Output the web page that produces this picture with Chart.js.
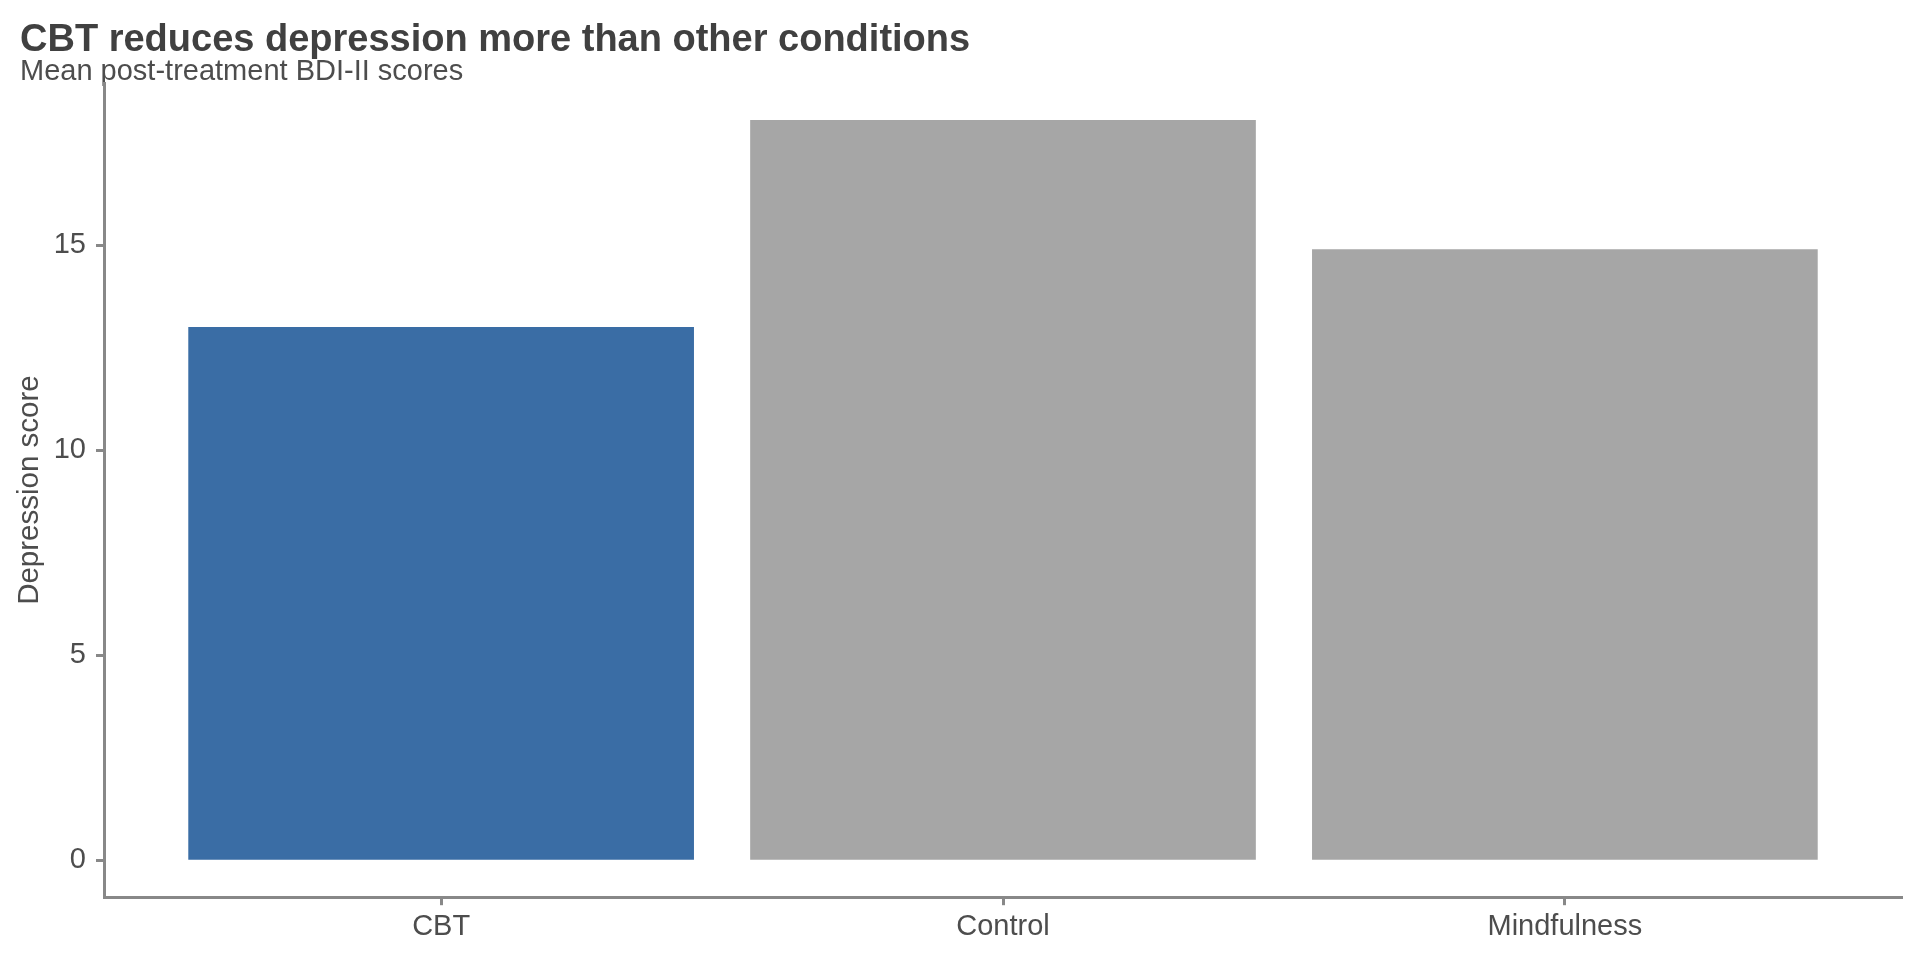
<!DOCTYPE html>
<html>
<head>
<meta charset="utf-8">
<script src="https://cdn.jsdelivr.net/npm/chart.js@4.4.1/dist/chart.umd.min.js"></script>
<style>
  html, body { margin: 0; padding: 0; background: #ffffff; }
  #wrap { width: 1920px; height: 960px; position: relative; }
</style>
</head>
<body>
<div id="wrap"><canvas id="c" width="1920" height="960"></canvas></div>
<script>
// ---- data ----
const categories = ['CBT', 'Control', 'Mindfulness'];
const scores = [13.0, 18.05, 14.9];
const yTickValues = [0, 5, 10, 15];
const highlighted = 'CBT';

const titleText = 'CBT reduces depression more than other conditions';
const subtitleText = 'Mean post-treatment BDI-II scores';
const yAxisTitle = 'Depression score';

// ---- styles ----
const highlightColor = '#3A6DA5';
const otherColor = '#A6A6A6';
const axisColor = '#888888';
const textColor = '#4D4D4D';
const FONT = "'Liberation Sans', Arial, Helvetica, sans-serif";

const points = categories.map((c, i) => ({ x: i + 1, y: scores[i] }));
const colors = categories.map(c => c === highlighted ? highlightColor : otherColor);

// ggplot-like expansion
const yMax = Math.max(...scores);
const yPad = 0.05 * yMax;
const xPad = 0.6;

const whiteBg = {
  id: 'whiteBg',
  beforeDraw(chart) {
    const ctx = chart.ctx;
    ctx.save();
    ctx.fillStyle = '#ffffff';
    ctx.fillRect(0, 0, chart.width, chart.height);
    ctx.restore();
  }
};

new Chart(document.getElementById('c'), {
  type: 'bar',
  data: {
    datasets: [{
      data: points,
      backgroundColor: colors,
      borderWidth: 0,
      barPercentage: 0.9,
      categoryPercentage: 1.0
    }]
  },
  options: {
    responsive: false,
    devicePixelRatio: 1,
    animation: false,
    layout: { padding: { left: 20, right: 18, top: 0, bottom: 12 } },
    plugins: {
      legend: { display: false },
      tooltip: { enabled: false },
      title: {
        display: true,
        text: titleText,
        align: 'start',
        color: '#404040',
        font: { family: FONT, size: 38, weight: 'bold', lineHeight: 1.0 },
        padding: { top: 21.5, bottom: -2.5 }
      },
      subtitle: {
        display: true,
        text: subtitleText,
        align: 'start',
        color: textColor,
        font: { family: FONT, size: 29, weight: 'normal', lineHeight: 1.0 },
        padding: { top: 0, bottom: -3 }
      }
    },
    scales: {
      x: {
        type: 'linear',
        offset: false,
        min: 1 - xPad,
        max: categories.length + xPad,
        afterBuildTicks(scale) {
          scale.ticks = categories.map((c, i) => ({ value: i + 1 }));
        },
        ticks: {
          autoSkip: false,
          maxRotation: 0,
          padding: 4,
          color: textColor,
          font: { family: FONT, size: 29 },
          callback: (v) => categories[v - 1]
        },
        grid: {
          display: true,
          offset: false,
          drawOnChartArea: false,
          drawTicks: true,
          tickLength: 8,
          tickWidth: 3,
          tickColor: axisColor
        },
        border: { display: true, color: axisColor, width: 3 }
      },
      y: {
        type: 'linear',
        min: -yPad,
        max: yMax + yPad,
        afterBuildTicks(scale) {
          scale.ticks = yTickValues.map(v => ({ value: v }));
        },
        afterFit(scale) { scale.width = 84; },
        ticks: {
          padding: 10,
          color: textColor,
          font: { family: FONT, size: 29 }
        },
        grid: {
          display: true,
          drawOnChartArea: false,
          drawTicks: true,
          tickLength: 8,
          tickWidth: 3,
          tickColor: axisColor
        },
        border: { display: true, color: axisColor, width: 3 },
        title: {
          display: true,
          text: yAxisTitle,
          color: textColor,
          font: { family: FONT, size: 29.5, lineHeight: 0.62 },
          padding: { top: 1, bottom: 0 }
        }
      }
    }
  },
  plugins: [whiteBg]
});
</script>
</body>
</html>
